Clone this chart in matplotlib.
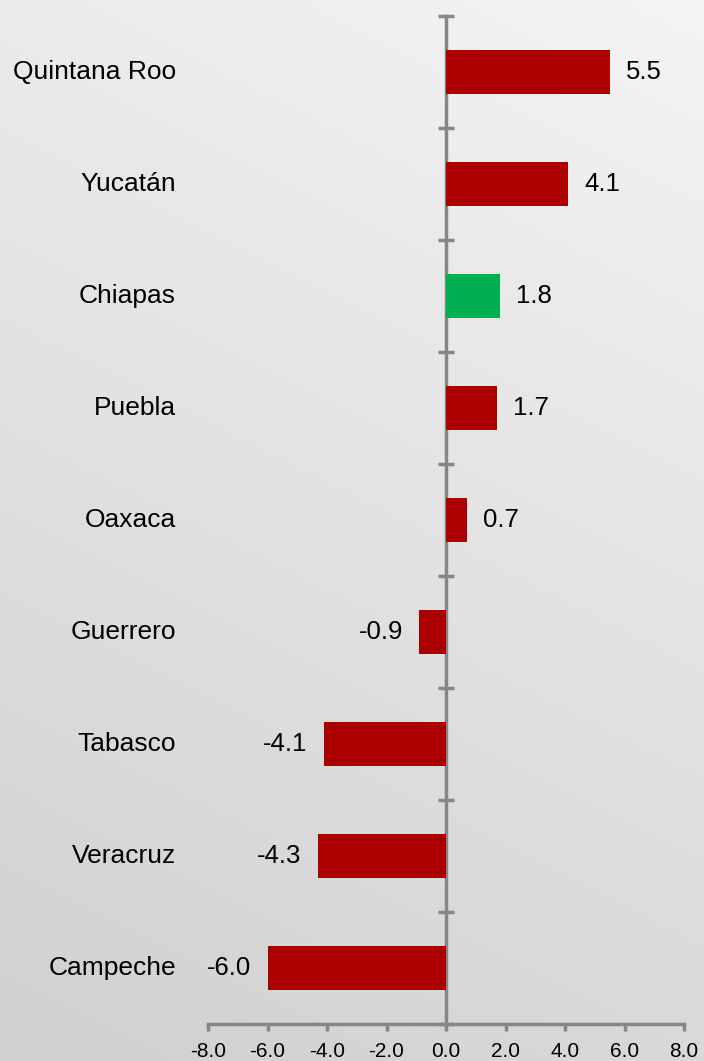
import numpy as np
import matplotlib
matplotlib.use("Agg")
import matplotlib.pyplot as plt
from matplotlib.colors import LinearSegmentedColormap

# datos (de abajo hacia arriba)
estados = ["Campeche", "Veracruz", "Tabasco", "Guerrero", "Oaxaca",
           "Puebla", "Chiapas", "Yucatán", "Quintana Roo"]
valores = [-6.0, -4.3, -4.1, -0.9, 0.7, 1.7, 1.8, 4.1, 5.5]
resaltado = "Chiapas"
xticks = [-8, -6, -4, -2, 0, 2, 4, 6, 8]

rojo = "#AA0000"
verde = "#00B050"
gris = "#868686"

plt.rcParams["font.family"] = ["Liberation Sans", "DejaVu Sans"]

fig = plt.figure(figsize=(7.04, 10.61), dpi=100)

# fondo en degradado gris
bg = fig.add_axes([0, 0, 1, 1], zorder=-10)
yy, xx = np.mgrid[0:1:200j, 0:1:200j]
grad = 0.75 * yy + 0.25 * xx
cmap = LinearSegmentedColormap.from_list("fondo", ["#d0d0d0", "#f4f4f4"])
bg.imshow(grad, cmap=cmap, origin="lower", aspect="auto", extent=[0, 1, 0, 1])
bg.axis("off")

ax = fig.add_axes([208 / 704, 37 / 1061, 476 / 704, 1008 / 1061])
ax.patch.set_alpha(0)

pos = np.arange(len(estados))
colores = [verde if e == resaltado else rojo for e in estados]
ax.barh(pos, valores, height=0.39, color=colores, zorder=3)

ax.set_xlim(-8, 8)
ax.set_ylim(-0.5, len(estados) - 0.5)

ax.spines["top"].set_visible(False)
ax.spines["right"].set_visible(False)
ax.spines["left"].set_position(("data", 0))
ax.spines["left"].set_color(gris)
ax.spines["left"].set_linewidth(2.5)
ax.spines["bottom"].set_color(gris)
ax.spines["bottom"].set_linewidth(2.5)

ax.set_yticks(np.arange(-0.5, len(estados), 1.0))
ax.set_yticklabels([])
ax.tick_params(axis="y", direction="inout", length=12, width=2.5, color=gris)

ax.set_xticks(xticks)
ax.set_xticklabels([f"{t:.1f}" for t in xticks], fontsize=15)
ax.tick_params(axis="x", direction="out", length=5, width=2.5, color=gris, pad=8)

# nombres de estados
for p, e in zip(pos, estados):
    ax.text(-32 / 476, p, e, transform=ax.get_yaxis_transform(),
            ha="right", va="center", fontsize=19)

# etiquetas de valores
for p, v in zip(pos, valores):
    off = 0.55 if v > 0 else -0.55
    ax.text(v + off, p, f"{v:.1f}", ha="left" if v > 0 else "right",
            va="center", fontsize=18.5)

fig.savefig("out.png", dpi=100)
